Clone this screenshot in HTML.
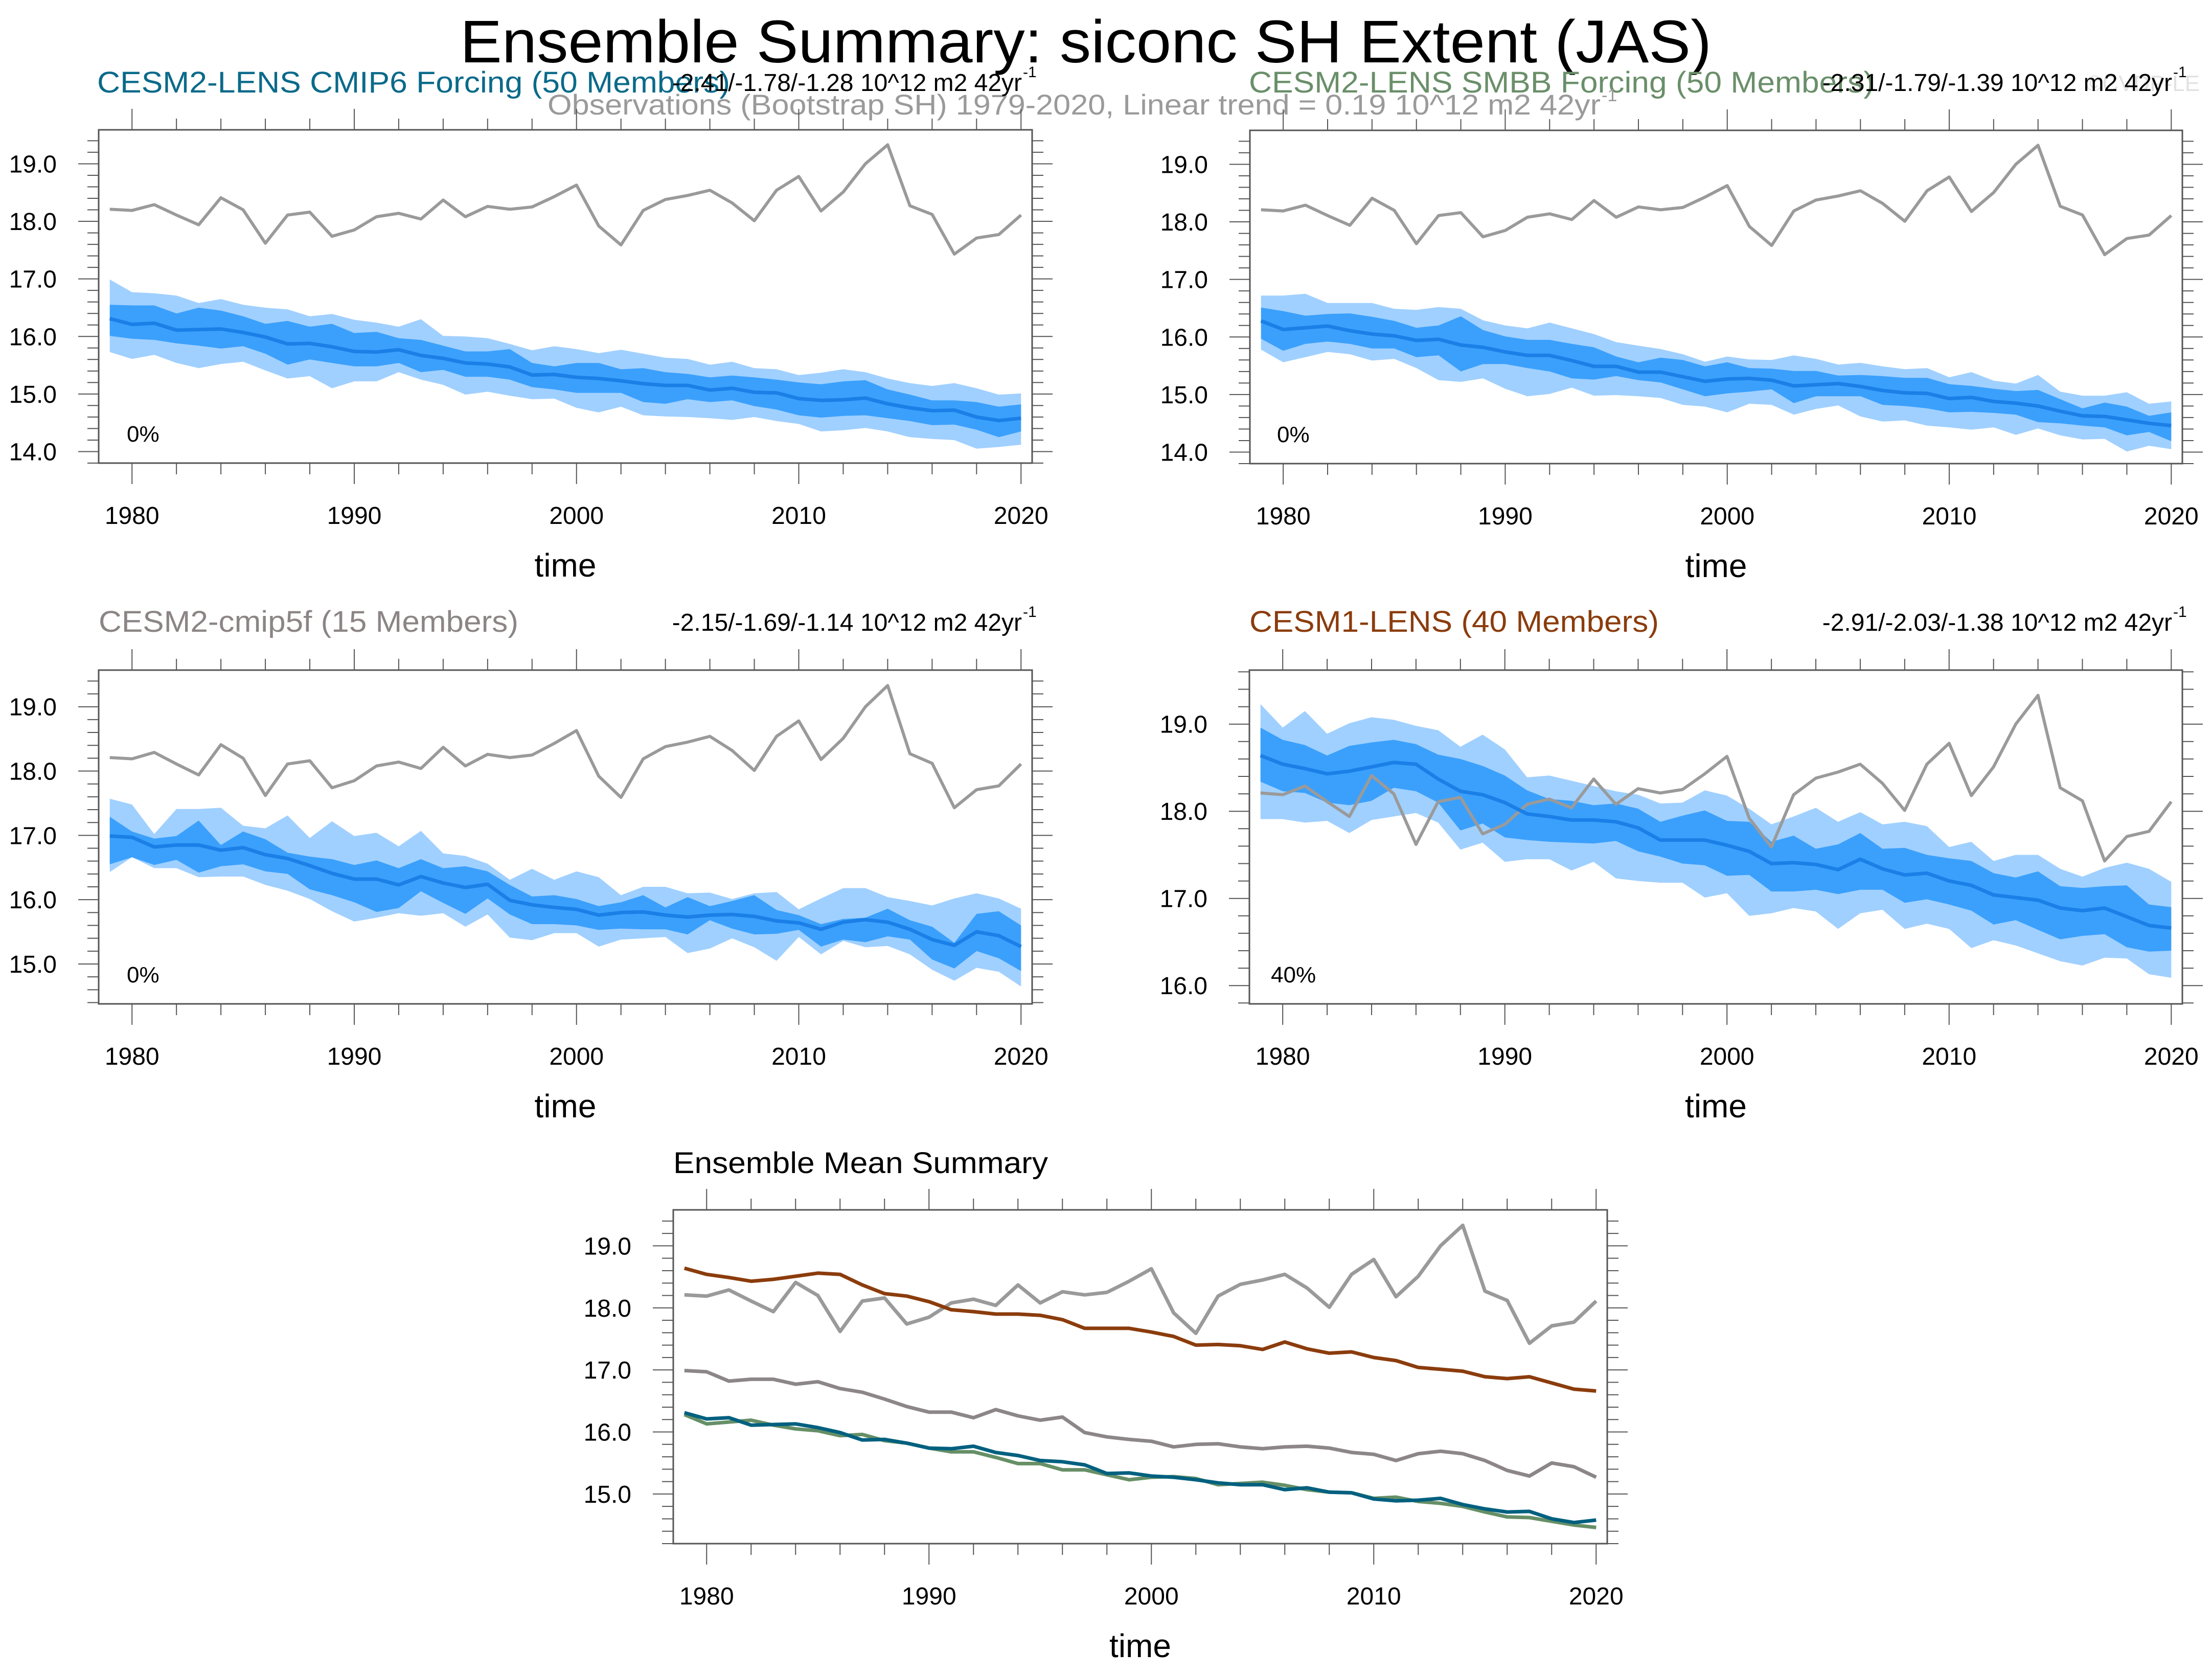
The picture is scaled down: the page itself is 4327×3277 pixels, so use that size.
<!DOCTYPE html>
<html><head><meta charset="utf-8"><style>
html,body{margin:0;padding:0;background:#fff}
svg{display:block;font-family:"Liberation Sans",Arial,sans-serif}
</style></head><body>
<svg id="chart" width="4327" height="3277" viewBox="0 0 4327 3277" xmlns="http://www.w3.org/2000/svg">
<rect width="4327" height="3277" fill="#fff"/>
<text x="900" y="122" font-size="118" textLength="2448" lengthAdjust="spacingAndGlyphs" fill="#000">Ensemble Summary: siconc SH Extent (JAS)</text>
<text x="190" y="181" font-size="58" textLength="1238" lengthAdjust="spacingAndGlyphs" fill="#0a6a8a">CESM2-LENS CMIP6 Forcing (50 Members)</text>
<text x="2443" y="181" font-size="58" textLength="1223" lengthAdjust="spacingAndGlyphs" fill="#6a8f6a">CESM2-LENS SMBB Forcing (50 Members)</text>
<text x="4080" y="178" font-size="44" fill="#e2e2e2">©CVDP-LE</text>
<text x="1071" y="224" font-size="56" textLength="2060" lengthAdjust="spacingAndGlyphs" fill="#9a9a9a">Observations (Bootstrap SH) 1979-2020, Linear trend = 0.19 10^12 m2 42yr</text>
<text x="3133" y="198" font-size="34" fill="#9a9a9a">-1</text>
<text x="193" y="1236" font-size="58" textLength="821" lengthAdjust="spacingAndGlyphs" fill="#8c8585">CESM2-cmip5f (15 Members)</text>
<text x="2444" y="1236" font-size="58" textLength="801" lengthAdjust="spacingAndGlyphs" fill="#8b3c0c">CESM1-LENS (40 Members)</text>
<text x="1317" y="2295" font-size="58" textLength="733" lengthAdjust="spacingAndGlyphs" fill="#000">Ensemble Mean Summary</text>
<g id="plots"></g>
</svg>
<script>
const years = [];
for (let y = 1979; y <= 2020; y++) years.push(y);
const obs = [18.21,18.19,18.29,18.11,17.94,18.41,18.2,17.62,18.11,18.16,17.74,17.85,18.08,18.14,18.04,18.37,18.08,18.26,18.21,18.25,18.43,18.63,17.92,17.59,18.19,18.38,18.45,18.54,18.32,18.01,18.54,18.78,18.18,18.51,19.0,19.33,18.27,18.12,17.43,17.71,17.77,18.11];
const cesm1Mean = [18.64,18.54,18.49,18.43,18.46,18.51,18.56,18.54,18.37,18.23,18.19,18.10,17.97,17.94,17.90,17.90,17.88,17.81,17.67,17.67,17.67,17.61,17.54,17.40,17.41,17.39,17.33,17.45,17.34,17.27,17.29,17.20,17.15,17.04,17.01,16.98,16.89,16.86,16.89,16.79,16.69,16.66];
const cmip5fMean = [16.99,16.97,16.82,16.85,16.85,16.77,16.81,16.70,16.64,16.53,16.41,16.32,16.32,16.23,16.36,16.26,16.19,16.24,15.99,15.92,15.88,15.85,15.76,15.80,15.81,15.76,15.73,15.76,15.77,15.74,15.67,15.64,15.54,15.65,15.69,15.65,15.54,15.38,15.29,15.50,15.44,15.27];
const cmip6Mean = [16.31,16.21,16.23,16.11,16.12,16.13,16.07,15.99,15.87,15.88,15.82,15.74,15.73,15.77,15.67,15.62,15.54,15.52,15.47,15.33,15.34,15.29,15.27,15.23,15.18,15.15,15.15,15.07,15.10,15.03,15.02,14.92,14.89,14.90,14.93,14.83,14.76,14.71,14.72,14.60,14.54,14.58];
const smbbMean = [16.28,16.13,16.16,16.19,16.11,16.05,16.02,15.94,15.96,15.86,15.82,15.74,15.68,15.68,15.59,15.49,15.49,15.39,15.39,15.31,15.23,15.27,15.28,15.25,15.15,15.17,15.19,15.14,15.07,15.03,15.02,14.93,14.95,14.88,14.85,14.80,14.71,14.63,14.62,14.56,14.50,14.46];

const cmip6OuterHi = [16.99,16.77,16.75,16.71,16.58,16.65,16.55,16.50,16.47,16.35,16.39,16.29,16.24,16.17,16.30,16.01,16.0,15.97,15.87,15.76,15.83,15.78,15.71,15.77,15.70,15.63,15.61,15.51,15.56,15.45,15.43,15.33,15.37,15.43,15.38,15.27,15.19,15.14,15.19,15.10,14.99,15.01];
const cmip6InnerHi = [16.55,16.54,16.54,16.40,16.50,16.45,16.35,16.22,16.27,16.17,16.22,16.06,16.08,15.97,15.94,15.84,15.74,15.74,15.78,15.54,15.48,15.54,15.54,15.43,15.45,15.38,15.35,15.29,15.32,15.29,15.25,15.20,15.17,15.22,15.24,15.08,14.99,14.89,14.89,14.86,14.78,14.82];
const cmip6InnerLo = [16.01,15.96,15.94,15.88,15.84,15.79,15.83,15.70,15.51,15.60,15.54,15.48,15.48,15.54,15.38,15.42,15.30,15.30,15.25,15.12,15.08,15.02,15.02,15.02,14.86,14.83,14.91,14.86,14.89,14.79,14.73,14.63,14.59,14.62,14.63,14.58,14.53,14.46,14.47,14.38,14.25,14.35];
const cmip6OuterLo = [15.73,15.61,15.68,15.54,15.45,15.52,15.56,15.41,15.27,15.31,15.10,15.22,15.22,15.38,15.25,15.16,14.99,15.04,14.97,14.91,14.92,14.76,14.68,14.78,14.63,14.61,14.60,14.58,14.55,14.60,14.53,14.48,14.35,14.37,14.41,14.35,14.25,14.22,14.20,14.05,14.08,14.12];

const smbbOuterHi = [16.72,16.72,16.75,16.59,16.59,16.59,16.49,16.47,16.52,16.49,16.29,16.20,16.15,16.25,16.15,16.05,15.91,15.85,15.79,15.70,15.57,15.66,15.61,15.60,15.68,15.62,15.52,15.55,15.49,15.44,15.46,15.30,15.39,15.24,15.19,15.34,15.05,14.98,14.98,15.04,14.84,14.88];
const smbbInnerHi = [16.51,16.45,16.37,16.40,16.41,16.35,16.28,16.16,16.20,16.36,16.12,16.01,15.95,15.95,15.88,15.82,15.66,15.56,15.64,15.60,15.49,15.56,15.46,15.45,15.41,15.41,15.33,15.34,15.32,15.29,15.29,15.18,15.15,15.10,15.06,15.08,14.92,14.76,14.86,14.79,14.63,14.69];
const smbbInnerLo = [15.97,15.76,15.88,15.92,15.88,15.80,15.80,15.65,15.68,15.40,15.53,15.53,15.46,15.40,15.28,15.26,15.32,15.25,15.21,15.09,14.97,15.02,15.05,15.09,14.85,14.97,14.97,14.97,14.82,14.80,14.76,14.69,14.70,14.68,14.65,14.52,14.50,14.46,14.43,14.29,14.35,14.19];
const smbbOuterLo = [15.78,15.56,15.65,15.74,15.70,15.59,15.62,15.46,15.25,15.22,15.28,15.10,14.97,15.01,15.12,14.98,14.99,14.97,14.94,14.82,14.79,14.69,14.84,14.82,14.65,14.75,14.81,14.62,14.53,14.55,14.46,14.43,14.39,14.43,14.30,14.41,14.29,14.22,14.23,14.01,14.11,14.05];

const cmip5fOuterHi = [17.57,17.48,17.02,17.41,17.41,17.43,17.15,17.11,17.31,16.96,17.22,16.99,17.04,16.83,17.07,16.72,16.68,16.56,16.31,16.48,16.31,16.44,16.35,16.07,16.20,16.20,16.10,16.11,16.01,16.10,16.12,15.85,16.02,16.18,16.18,16.04,15.98,15.91,16.02,16.10,16.02,15.86];
const cmip5fInnerHi = [17.29,17.06,16.95,16.99,17.23,16.85,17.06,16.94,16.73,16.67,16.63,16.54,16.61,16.49,16.63,16.49,16.52,16.44,16.23,16.05,16.07,16.01,15.90,15.96,16.07,15.88,16.04,15.90,15.98,16.07,15.84,15.76,15.62,15.70,15.72,15.86,15.68,15.58,15.33,15.78,15.82,15.60];
const cmip5fInnerLo = [16.55,16.66,16.54,16.62,16.42,16.52,16.55,16.44,16.40,16.16,16.07,15.96,15.81,15.87,16.13,15.95,15.78,16.02,15.77,15.62,15.62,15.60,15.53,15.55,15.54,15.54,15.46,15.68,15.55,15.46,15.47,15.53,15.27,15.38,15.34,15.43,15.38,15.07,14.93,15.20,15.09,14.89];
const cmip5fOuterLo = [16.43,16.66,16.49,16.49,16.35,16.36,16.36,16.23,16.14,16.01,15.82,15.66,15.72,15.79,15.75,15.79,15.58,15.77,15.41,15.37,15.48,15.48,15.27,15.38,15.40,15.42,15.17,15.24,15.40,15.26,15.05,15.42,15.15,15.36,15.26,15.28,15.15,14.91,14.74,14.94,14.88,14.65];

const cesm1OuterHi = [19.23,18.96,19.15,18.89,19.01,19.08,19.05,18.98,18.93,18.74,18.88,18.71,18.39,18.41,18.35,18.29,18.23,18.19,18.09,18.10,18.24,18.18,18.03,17.85,17.94,18.04,17.88,17.99,17.85,17.88,17.83,17.59,17.65,17.43,17.50,17.50,17.34,17.25,17.35,17.41,17.34,17.19];
const cesm1InnerHi = [18.96,18.82,18.76,18.64,18.75,18.79,18.82,18.77,18.65,18.60,18.52,18.41,18.24,18.14,18.12,18.07,18.09,18.03,17.88,17.95,18.01,17.89,17.88,17.65,17.72,17.57,17.62,17.75,17.57,17.58,17.50,17.46,17.43,17.29,17.24,17.31,17.14,17.12,17.14,17.15,16.93,16.90];
const cesm1InnerLo = [18.34,18.23,18.21,18.10,18.07,18.12,18.27,18.23,18.10,17.78,17.86,17.70,17.67,17.65,17.64,17.63,17.66,17.54,17.48,17.40,17.38,17.26,17.27,17.08,17.08,17.10,17.05,17.10,17.10,16.95,16.99,16.93,16.86,16.70,16.75,16.64,16.53,16.57,16.59,16.44,16.39,16.40];
const cesm1OuterLo = [17.91,17.91,17.87,17.89,17.75,17.90,17.94,17.98,17.87,17.56,17.64,17.42,17.45,17.45,17.32,17.42,17.23,17.20,17.18,17.18,17.01,17.06,16.80,16.83,16.89,16.85,16.65,16.83,16.87,16.65,16.71,16.65,16.43,16.52,16.46,16.37,16.28,16.23,16.32,16.31,16.13,16.09];

const xTickYears = [1980,1990,2000,2010,2020];
const trendCmip6 = "-2.41/-1.78/-1.28 10^12 m2 42yr";
const trendSmbb = "-2.31/-1.79/-1.39 10^12 m2 42yr";
const trendCmip5f = "-2.15/-1.69/-1.14 10^12 m2 42yr";
const trendCesm1 = "-2.91/-2.03/-1.38 10^12 m2 42yr";

const NS = "http://www.w3.org/2000/svg";
const root = document.getElementById('plots');
function mk(tag, attrs, parent){ const e=document.createElementNS(NS,tag); for(const k in attrs) e.setAttribute(k,attrs[k]); (parent||root).appendChild(e); return e; }

function panel(cfg){
  const g = mk('g',{});
  
  
  const x0=cfg.x0,y0=cfg.y0,w=cfg.w,h=cfg.h;
  const sx = yr => x0 + (yr-1978.5)/(2020.5-1978.5)*w;
  const sy = v => y0 + (cfg.ymax-v)/(cfg.ymax-cfg.ymin)*h;
  function band(hi, lo, color, nm){
    let d='M'+years.map((yr,i)=>sx(yr).toFixed(1)+','+sy(hi[i]).toFixed(1)).join('L');
    for(let i=years.length-1;i>=0;i--) d+='L'+sx(years[i]).toFixed(1)+','+sy(lo[i]).toFixed(1);
    const p=mk('path',{d:d+'Z',fill:color,stroke:'none'},g);
    
    
  }
  function line(vals, color, wd, nm){
    const d='M'+years.map((yr,i)=>sx(yr).toFixed(1)+','+sy(vals[i]).toFixed(1)).join('L');
    const p=mk('path',{d:d,fill:'none',stroke:color,'stroke-width':wd,'stroke-linejoin':'round'},g);
    
    
  }
  if(cfg.bands){
    band(cfg.bands[0],cfg.bands[3],'#a0d0ff','outer-spread-band');
    band(cfg.bands[1],cfg.bands[2],'#3ba0fc','inner-spread-band');
    line(obs,'#9a9a9a',6,'observations-line');
    line(cfg.mean,'#1a7fe6',7,'ensemble-mean-line');
  }
  if(cfg.lines){
    cfg.lines.forEach(l=>line(l[0],l[1],7,l[2]));
  }
  const fr=mk('rect',{x:x0,y:y0,width:w,height:h,fill:'none',stroke:'#555','stroke-width':3},g);
  
  
  for(let yr=1980; yr<=2020; yr+=2){
    const major = yr%10===0; const L = major?41:22; const x=sx(yr);
    mk('line',{x1:x,x2:x,y1:y0+h,y2:y0+h+L,stroke:'#555','stroke-width':2},g);
    mk('line',{x1:x,x2:x,y1:y0,y2:y0-L,stroke:'#555','stroke-width':2},g);
  }
  xTickYears.forEach(yr=>{
    const t=mk('text',{x:sx(yr),y:y0+h+119,'font-size':48,'text-anchor':'middle',fill:'#000'},g);
    t.textContent=yr;
    
    
  });
  const lo=Math.ceil(cfg.ymin*5-1e-6), hi=Math.floor(cfg.ymax*5+1e-6);
  for(let k=lo;k<=hi;k++){
    const v=k/5, y=sy(v), major=(k%5===0), L=major?40:22;
    mk('line',{x1:x0,x2:x0-L,y1:y,y2:y,stroke:'#555','stroke-width':2},g);
    mk('line',{x1:x0+w,x2:x0+w+L,y1:y,y2:y,stroke:'#555','stroke-width':2},g);
    if(major){
      const t=mk('text',{x:x0-82,y:y+17,'font-size':48,'text-anchor':'end',fill:'#000'},g);
      t.textContent=v.toFixed(1);
      
      
    }
  }
  const xt=mk('text',{x:x0+w/2,y:y0+h+222,'font-size':64,'text-anchor':'middle',fill:'#000'},g);
  xt.textContent='time';
  
  
  if(cfg.pct){
    const t=mk('text',{x:x0+cfg.pctdx,y:y0+h-42,'font-size':44,fill:'#000'},g);
    t.textContent=cfg.pct;
    
    
  }
  if(cfg.trend){
    const t=mk('text',{x:x0+w-20,y:cfg.trendY,'font-size':48,'text-anchor':'end',fill:'#000'},g);
    t.textContent=cfg.trend;
    
    
    const s=mk('text',{x:x0+w-18,y:cfg.trendY-27,'font-size':30,fill:'#000'},g);
    s.textContent='-1';
    
    
  }
}

panel({name:'panel-cmip6',x0:193,y0:254,w:1826,h:652,ymin:13.8,ymax:19.59,mean:cmip6Mean,bands:[cmip6OuterHi,cmip6InnerHi,cmip6InnerLo,cmip6OuterLo],pct:'0%',pctdx:55,trend:trendCmip6,trendY:178});
panel({name:'panel-smbb',x0:2445,y0:255,w:1824,h:652,ymin:13.8,ymax:19.59,mean:smbbMean,bands:[smbbOuterHi,smbbInnerHi,smbbInnerLo,smbbOuterLo],pct:'0%',pctdx:53,trend:trendSmbb,trendY:178});
panel({name:'panel-cmip5f',x0:193,y0:1311,w:1826,h:653,ymin:14.38,ymax:19.57,mean:cmip5fMean,bands:[cmip5fOuterHi,cmip5fInnerHi,cmip5fInnerLo,cmip5fOuterLo],pct:'0%',pctdx:55,trend:trendCmip5f,trendY:1234});
panel({name:'panel-cesm1',x0:2444,y0:1311,w:1825,h:653,ymin:15.79,ymax:19.62,mean:cesm1Mean,bands:[cesm1OuterHi,cesm1InnerHi,cesm1InnerLo,cesm1OuterLo],pct:'40%',pctdx:42,trend:trendCesm1,trendY:1234});
panel({name:'panel-mean-summary',x0:1317,y0:2367,w:1827,h:653,ymin:14.2,ymax:19.58,lines:[[obs,'#9a9a9a','observations-line'],[cesm1Mean,'#8b3c0c','cesm1-mean-line'],[cmip5fMean,'#8c8688','cmip5f-mean-line'],[smbbMean,'#668f66','smbb-mean-line'],[cmip6Mean,'#00607f','cmip6-mean-line']]});
</script>
</body></html>
